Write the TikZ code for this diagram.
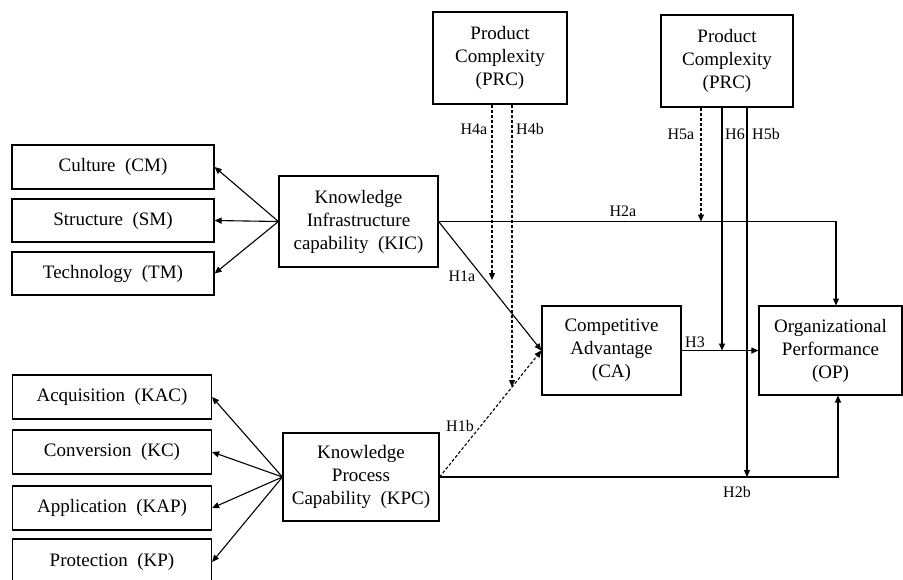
\documentclass[tikz,border=0pt]{standalone}
\usepackage{fontspec}
\setmainfont{Liberation Serif}
\usetikzlibrary{arrows.meta}
\newcommand{\wsp}{\hspace{0.5em}}
\begin{document}
\begin{tikzpicture}[x=1pt,y=-1pt,
  box/.style={draw,line width=1.2pt,align=center,inner sep=0pt,font=\fontsize{19}{23}\selectfont},
  arr/.style={line width=1.1pt,-{Triangle[length=7pt,width=6pt]}},
  dsh/.style={arr,dash pattern=on 3pt off 2pt},
  lab/.style={font=\fontsize{16}{18}\selectfont,inner sep=1pt}]
\clip (0,0) rectangle (903,579);
\useasboundingbox (0,0) rectangle (903,579);
% boxes
\node[box,minimum width=134pt,minimum height=92pt] (prc1) at (500,58) {Product\\Complexity\\(PRC)};
\node[box,minimum width=132pt,minimum height=92pt] (prc2) at (727,61) {Product\\Complexity\\(PRC)};
\node[box,minimum width=202pt,minimum height=44pt] (cm) at (113,167) {Culture\wsp(CM)};
\node[box,minimum width=202pt,minimum height=43pt] (sm) at (113,220.5) {Structure\wsp(SM)};
\node[box,minimum width=202pt,minimum height=43pt] (tm) at (113,273.5) {Technology\wsp(TM)};
\node[box,minimum width=159pt,minimum height=91pt] (kic) at (358.5,221.5) {Knowledge\\Infrastructure\\capability\wsp(KIC)};
\node[box,minimum width=199pt,minimum height=44pt] (kac) at (112,397) {Acquisition\wsp(KAC)};
\node[box,minimum width=199pt,minimum height=44pt] (kc) at (112,452) {Conversion\wsp(KC)};
\node[box,minimum width=199pt,minimum height=44pt] (kap) at (112,508) {Application\wsp(KAP)};
\node[box,minimum width=199pt,minimum height=46pt] (kp) at (112,562) {Protection\wsp(KP)};
\node[box,minimum width=156pt,minimum height=88pt] (kpc) at (361,477) {Knowledge\\Process\\Capability\wsp(KPC)};
\node[box,minimum width=139pt,minimum height=89pt] (ca) at (611.5,350.5) {Competitive\\Advantage\\(CA)};
\node[box,minimum width=143pt,minimum height=89pt] (op) at (830.5,350.5) {Organizational\\Performance\\(OP)};
% coordinates
\coordinate (h2aend) at (836,305.5);
\coordinate (h2bend) at (838,395.5);
\coordinate (h4aend) at (492,280);
\coordinate (h4bend) at (512,387);
\coordinate (h5aend) at (701,221.5);
\coordinate (h6end) at (722,350.5);
\coordinate (h5bend) at (747,477);
% indicator arrows
\foreach \t in {cm,sm,tm} \draw[arr] (kic.west) -- (\t.east);
\foreach \t in {kac,kc,kap,kp} \draw[arr] (kpc.west) -- (\t.east);
% paths
\draw[arr] (kic.east) -| (h2aend);
\draw[arr] (kic.east) -- (ca.west);
\draw[dsh] (kpc.east) -- (ca.west);
\draw[arr] (kpc.east) -| (h2bend);
\draw[arr] (ca.east) -- (op.west);
\draw[dsh] (prc1.south -| h4aend) -- (h4aend);
\draw[dsh] (prc1.south -| h4bend) -- (h4bend);
\draw[dsh] (prc2.south -| h5aend) -- (h5aend);
\draw[arr] (prc2.south -| h6end) -- (h6end);
\draw[arr] (prc2.south -| h5bend) -- (h5bend);
% labels
\node[lab] (l4a) at (474,129) {H4a};
\node[lab] (l4b) at (530,129) {H4b};
\node[lab] (l5a) at (681,134) {H5a};
\node[lab] (l6) at (735,134) {H6};
\node[lab] (l5b) at (766,134) {H5b};
\node[lab] (l2a) at (623,211) {H2a};
\node[lab] (l1a) at (462,276) {H1a};
\node[lab] (l1b) at (460,426) {H1b};
\node[lab] (l3) at (695,342) {H3};
\node[lab] (l2b) at (737,492) {H2b};
\end{tikzpicture}
\end{document}
